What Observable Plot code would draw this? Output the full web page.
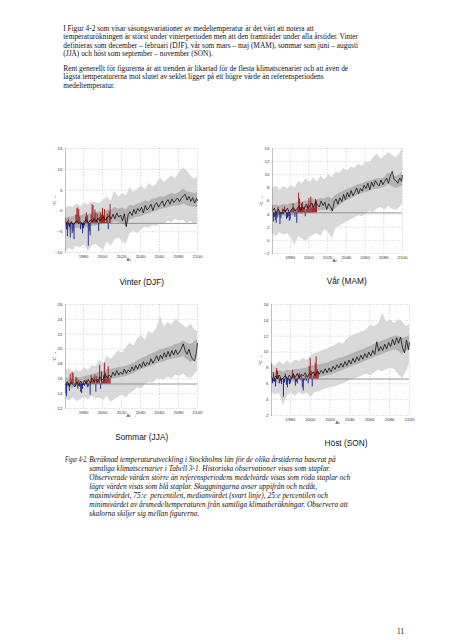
<!DOCTYPE html>
<html><head><meta charset="utf-8">
<script src="https://cdn.jsdelivr.net/npm/d3@7"></script>
<script src="https://cdn.jsdelivr.net/npm/@observablehq/plot@0.6"></script>
<style>
body{margin:0;background:#fff;}
#page{position:relative;width:452px;height:640px;overflow:hidden;background:#fff;}
.p{position:absolute;font-family:"Liberation Serif","Times New Roman",serif;font-size:7.4px;line-height:8.25px;color:#111;white-space:nowrap;}
.cap{font-style:italic;line-height:9px;}
.t{position:absolute;font-family:"Liberation Sans",Arial,sans-serif;font-size:8.3px;color:#111;transform:translate(-50%,-50%);white-space:nowrap;}
.chart{position:absolute;}
</style></head>
<body><div id="page">
<div class="p" style="left:63.3px;top:25.2px">I Figur 4-2 som visar säsongsvariationer av medeltemperatur är det värt att notera att<br>temperaturökningen är störst under vinterperioden men att den framträder under alla årstider. Vinter<br>definieras som december – februari (DJF), vår som mars – maj (MAM), sommar som juni – augusti<br>(JJA) och höst som september – november (SON).</div>
<div class="p" style="left:63.3px;top:65.2px">Rent generellt för figurerna är att trenden är likartad för de flesta klimatscenarier och att även de<br>lägsta temperaturerna mot slutet av seklet ligger på ett högre värde än referensperiodens<br>medeltemperatur.</div>
<div class="chart" id="c1" style="left:43px;top:142.3px"></div>
<div class="chart" id="c2" style="left:249.5px;top:141.7px"></div>
<div class="chart" id="c3" style="left:43px;top:298px"></div>
<div class="chart" id="c4" style="left:249px;top:298px"></div>
<div class="t" style="left:141.7px;top:281.7px">Vinter (DJF)</div>
<div class="t" style="left:346.7px;top:281px">Vår (MAM)</div>
<div class="t" style="left:141.7px;top:437px">Sommar (JJA)</div>
<div class="t" style="left:346px;top:443px">Höst (SON)</div>
<div class="p cap" style="left:65px;top:455.2px;transform:scaleX(0.74);transform-origin:0 0">Figur 4-2.</div>
<div class="p cap" style="left:89.3px;top:455.2px">Beräknad temperaturutveckling i Stockholms län för de olika årstiderna baserat på<br>samtliga klimatscenarier i Tabell 3-1. Historiska observationer visas som staplar.<br>Observerade värden större än referensperiodens medelvärde visas som röda staplar och<br>lägre värden visas som blå staplar. Skuggningarna avser uppifrån och nedåt,<br>maximivärdet, 75:e&nbsp; percentilen, medianvärdet (svart linje), 25:e percentilen och<br>minimivärdet av årsmedeltemperaturen från samtliga klimatberäkningar. Observera att<br>skalorna skiljer sig mellan figurerna.</div>
<div class="p" style="left:397px;top:628px">11</div>
</div>
<script>
// ---------- shared categories ----------
const xTicks = [1980, 2000, 2020, 2040, 2060, 2080, 2100];
const obsYears = [1961,1962,1963,1964,1965,1966,1967,1968,1969,1970,1971,1972,1973,1974,1975,1976,1977,1978,1979,1980,1981,1982,1983,1984,1985,1986,1987,1988,1989,1990,1991,1992,1993,1994,1995,1996,1997,1998,1999,2000,2001,2002,2003,2004,2005,2006,2007,2008];
const bandYears = [1961,1965,1969,1973,1977,1981,1985,1989,1993,1997,2001,2005,2009,2013,2017,2021,2025,2029,2033,2037,2041,2045,2049,2053,2057,2061,2065,2069,2073,2077,2081,2085,2089,2093,2097,2100];
const medianYears = [1961,1963,1965,1967,1969,1971,1973,1975,1977,1979,1981,1983,1985,1987,1989,1991,1993,1995,1997,1999,2001,2003,2005,2007,2009,2011,2013,2015,2017,2019,2021,2023,2025,2027,2029,2031,2033,2035,2037,2039,2041,2043,2045,2047,2049,2051,2053,2055,2057,2059,2061,2063,2065,2067,2069,2071,2073,2075,2077,2079,2081,2083,2085,2087,2089,2091,2093,2095,2097,2099,2100];

// ---------- Vinter (DJF) ----------
const winterTicks = [-10,-5,0,5,10,15];
const winterRef = -3.0;
const winterObs = [-1.8,-4.5,-6.2,-2.0,-4.0,-6.5,-2.5,-5.5,-5.0,-6.9,-2.8,-1.0,0.5,0.7,0.3,-1.5,-4.5,-3.4,-5.5,-4.3,-3.6,-1.5,-0.5,-1.2,-8.5,-5.0,-6.0,-1.0,1.5,1.3,-1.8,0.2,-0.5,-2.2,-0.8,-5.0,-1.5,-0.5,-1.0,0.6,-1.2,0.3,-2.8,-1.5,-0.8,-4.5,-0.2,1.5];
const winterMedian = [-3.2,-2.5,-3.6,-2.7,-3.3,-2.9,-2.4,-3.1,-2.6,-3.4,-2.5,-2.1,-2.9,-2.2,-2.7,-1.9,-2.6,-1.7,-2.3,-1.9,-1.4,-2.2,-1.6,-1.1,-2.0,-0.8,-1.9,-0.5,-1.5,-1.0,-2.4,-0.7,-3.8,-0.9,-0.2,-1.1,0.4,-0.7,0.6,-0.1,0.9,-0.5,1.3,0.2,0.8,1.6,0.1,1.4,2.0,0.9,1.7,2.4,1.1,2.1,2.7,1.6,2.9,2.0,2.6,3.1,2.2,3.0,3.6,4.0,2.6,3.5,2.3,3.2,1.9,3.0,2.5];
const winterMax = [0.5,1.2,0.8,1.8,1.0,1.9,1.4,2.2,2.0,1.8,2.6,3.2,2.4,4.8,3.2,4.2,3.6,5.6,4.4,5.2,6.0,5.0,6.6,5.8,6.4,8.0,6.8,7.6,8.4,7.8,9.2,10.4,9.6,8.4,7.6,8.2];
const winterP75 = [-1.8,-1.5,-1.4,-1.0,-1.2,-0.8,-0.9,-0.5,-0.6,-0.2,-0.3,0.2,0.1,0.8,0.4,0.7,0.2,1.3,1.2,1.6,1.9,2.4,2.2,2.8,3.0,3.4,3.3,3.8,4.1,4.0,4.4,5.2,4.6,4.4,4.2,4.3];
const winterP25 = [-4.6,-4.8,-4.4,-4.2,-4.3,-4.0,-4.1,-3.7,-3.6,-3.4,-3.2,-3.0,-3.1,-2.6,-2.8,-3.0,-3.6,-2.2,-1.8,-1.5,-1.4,-0.9,-0.7,-0.3,-0.1,0.3,0.5,0.7,1.0,1.1,1.2,1.6,1.3,1.0,0.9,0.8];
const winterMin = [-10,-9.0,-9.5,-8.5,-9.0,-8.0,-9.8,-8.5,-8.0,-8.8,-9.5,-7.5,-8.5,-7.0,-6.5,-7.5,-8.0,-5.5,-5.0,-5.5,-4.5,-4.0,-4.2,-3.5,-3.8,-3.0,-3.2,-2.5,-2.8,-2.0,-2.5,-2.2,-3.0,-2.5,-3.2,-2.8];

// ---------- Vår (MAM) ----------
const springTicks = [-2,0,2,4,6,8,10,12,14];
const springRef = 4.2;
const springObs = [5.2,2.8,3.5,3.0,2.6,3.4,5.0,3.8,2.4,3.3,4.0,4.8,3.9,5.1,4.6,3.2,3.4,3.6,2.9,3.1,4.5,4.7,5.6,4.9,3.5,4.6,2.6,4.8,7.2,6.3,5.0,5.6,5.8,4.9,5.1,3.6,4.7,5.2,5.5,6.4,4.8,6.6,5.0,5.5,5.2,4.9,6.2,6.0];
const springMedian = [4.5,4.9,4.1,4.8,4.3,4.0,4.7,4.4,4.9,4.2,4.6,5.0,4.5,4.8,5.2,4.6,5.1,4.8,5.5,4.9,5.3,5.7,5.0,5.9,5.4,5.1,6.0,5.3,5.8,4.7,5.6,5.1,4.5,5.9,6.3,5.5,6.5,5.9,7.0,6.2,7.3,6.6,7.6,6.8,7.3,8.0,7.1,7.9,7.5,8.4,7.9,8.7,7.7,8.9,8.2,9.1,8.6,8.3,9.2,8.5,9.0,9.5,8.7,9.8,10.5,9.3,9.1,8.7,9.5,9.0,9.9];
const springMax = [8.0,8.3,7.6,8.2,7.8,8.4,7.9,9.0,8.6,9.4,8.8,9.6,8.9,9.8,9.2,10.0,9.6,10.4,10.2,10.9,10.5,11.2,11.0,11.6,11.3,12.0,11.8,12.6,13.2,12.4,12.8,13.4,13.0,12.6,13.2,14.0];
const springP75 = [5.3,5.4,5.2,5.5,5.4,5.6,5.6,5.9,5.8,6.0,6.0,6.3,6.2,6.4,6.3,6.6,6.3,6.9,7.2,7.5,7.8,8.0,8.2,8.5,8.6,8.9,9.0,9.2,9.4,9.4,9.6,10.3,9.9,9.7,10.0,10.4];
const springP25 = [3.4,3.6,3.5,3.7,3.5,3.7,3.8,4.0,3.9,4.2,4.1,4.3,4.4,4.6,4.5,4.7,4.2,4.9,5.3,5.7,6.1,6.3,6.6,6.9,7.1,7.3,7.5,7.7,7.8,7.9,8.1,8.5,8.2,7.9,8.1,8.3];
const springMin = [1.0,0.6,1.2,0.8,1.0,0.4,-0.8,0.6,0.2,-0.2,0.5,0.8,1.0,0.6,1.7,1.2,0.3,1.8,2.2,2.5,2.8,3.2,3.4,3.8,3.6,4.0,4.4,4.2,4.8,5.0,4.6,5.2,4.8,4.5,5.0,5.5];

// ---------- Sommar (JJA) ----------
const summerTicks = [12,14,16,18,20,22,24,26];
const summerRef = 15.3;
const summerObs = [14.0,13.6,15.0,15.2,14.3,16.6,15.8,16.9,16.7,15.4,15.0,16.2,16.0,14.6,15.8,14.9,14.2,14.0,14.6,15.1,15.0,15.6,15.8,14.8,14.9,15.4,13.8,16.4,15.9,15.6,16.2,16.5,14.2,16.3,15.9,15.4,17.8,14.6,16.9,15.6,16.4,18.1,16.8,15.9,16.2,17.6,16.0,16.1];
const summerMedian = [15.3,15.6,15.0,15.5,15.2,14.9,15.6,15.1,15.7,15.2,15.8,15.3,15.9,15.4,16.1,15.6,15.9,15.5,16.3,15.8,16.0,16.6,16.1,16.5,16.2,16.9,16.4,17.1,16.5,16.9,16.6,17.3,16.7,17.2,16.9,17.6,17.1,17.8,17.3,18.0,17.5,18.3,17.7,18.2,17.9,18.7,18.1,18.6,19.1,18.4,19.2,18.7,19.5,18.9,19.7,19.0,19.8,19.2,19.9,19.3,19.6,20.1,20.7,19.8,19.3,20.0,19.1,18.6,18.4,19.7,20.8];
const summerMax = [17.0,17.4,16.8,17.2,16.9,17.5,17.1,17.8,17.6,18.5,18.0,19.0,18.6,19.2,19.8,19.4,20.2,20.8,20.4,21.4,21.8,21.2,22.4,22.0,22.8,24.4,23.0,23.6,23.2,24.0,23.6,23.2,22.8,23.4,22.6,22.4];
const summerP75 = [16.0,16.1,15.9,16.2,16.1,16.3,16.4,16.6,16.7,16.9,17.0,17.2,17.3,17.4,17.5,17.6,17.7,17.9,18.1,18.4,18.7,18.9,19.2,19.4,19.6,19.9,20.0,20.2,20.3,20.6,20.7,21.1,20.8,20.6,21.0,21.3];
const summerP25 = [14.8,14.9,14.7,15.0,14.8,15.1,15.0,15.2,15.3,15.4,15.6,15.8,15.9,16.0,16.1,16.2,16.3,16.5,16.7,17.0,17.2,17.4,17.6,17.8,18.0,18.2,18.3,18.5,18.6,18.7,18.8,19.0,18.6,18.2,18.5,19.0];
const summerMin = [13.3,13.0,13.4,12.9,13.2,13.5,13.1,13.6,13.3,13.4,13.0,13.6,12.8,13.2,13.5,13.8,13.4,14.0,14.3,14.8,14.6,15.2,15.5,15.4,15.9,16.0,15.8,16.2,16.0,16.5,16.3,16.6,16.2,16.0,16.5,17.0];

// ---------- Höst (SON) ----------
const autumnTicks = [2,4,6,8,10,12,14,16];
const autumnRef = 6.6;
const autumnObs = [8.5,6.0,7.4,6.2,5.6,7.9,7.6,7.0,6.0,6.3,5.9,6.5,4.3,6.1,7.2,5.8,5.5,6.4,5.9,6.0,6.5,7.7,7.3,7.0,5.7,6.2,6.0,7.1,7.3,6.5,7.0,5.5,5.1,6.4,7.0,6.3,6.6,6.0,8.2,9.2,7.6,5.6,7.0,7.4,8.6,9.4,7.8,7.5];
const autumnMedian = [6.9,6.4,7.0,6.6,7.1,6.5,6.8,7.0,6.6,7.1,6.7,7.2,6.8,7.3,6.7,7.2,7.0,7.4,6.8,7.3,7.1,7.5,7.0,7.6,7.2,7.7,7.3,7.9,7.4,8.0,7.5,8.2,7.8,8.4,8.0,8.6,8.1,8.8,8.3,9.0,8.5,9.2,8.7,9.4,8.9,9.6,9.1,9.8,9.3,10.0,9.5,10.2,9.7,11.3,10.1,10.7,10.2,11.0,10.4,11.2,10.7,11.6,10.9,11.8,11.1,11.9,10.5,9.9,11.5,10.3,11.2];
const autumnMax = [8.6,8.2,8.8,8.4,8.9,8.5,9.0,8.8,9.2,9.0,9.6,9.8,10.0,10.2,10.4,10.6,10.8,11.2,11.0,11.6,12.0,12.2,12.4,12.6,12.8,13.4,13.2,13.6,14.9,13.8,14.0,13.6,14.1,13.8,13.2,13.5];
const autumnP75 = [7.5,7.4,7.6,7.5,7.7,7.6,7.8,7.8,7.9,8.0,8.2,8.3,8.4,8.5,8.6,8.8,9.0,9.2,9.3,9.5,9.7,9.9,10.1,10.3,10.5,10.7,11.0,11.2,11.4,11.6,11.8,12.0,12.0,11.7,11.9,12.1];
const autumnP25 = [6.1,6.2,6.0,6.2,6.1,6.3,6.2,6.4,6.3,6.5,6.6,6.7,6.8,6.9,7.0,7.1,7.3,7.5,7.7,7.9,8.1,8.3,8.5,8.7,8.9,9.1,9.3,9.5,9.7,9.9,10.1,10.3,10.1,9.7,10.1,10.3];
const autumnMin = [4.9,4.6,4.8,3.2,4.5,4.8,4.4,4.9,4.6,4.8,4.3,4.9,5.0,5.2,5.4,5.5,5.6,5.8,6.0,6.2,6.5,6.6,6.8,7.0,7.2,7.0,7.4,7.7,7.5,7.8,8.0,7.8,7.2,6.6,7.6,8.5];

const RED = "#9c1c1c", BLUE = "#1e2490";

function chart(id, c) {
  const band = bandYears.map((year, i) => ({year, min: c.min[i], p25: c.p25[i], p75: c.p75[i], max: c.max[i]}));
  const med = medianYears.map((year, i) => ({year, value: c.median[i]}));
  const obs = obsYears.map((year, i) => ({year, value: c.obs[i]}));
  const above = obs.filter(d => d.value >= c.ref);
  const below = obs.filter(d => d.value < c.ref);
  const barOpts = {x1: "year", x2: d => d.year + 1, y1: d => c.ref, y2: "value"};
  const plot = Plot.plot({
    width: c.w, height: c.h,
    marginLeft: 22, marginRight: 8, marginTop: 6, marginBottom: 16,
    style: {fontFamily: "Liberation Sans, Arial, sans-serif", fontSize: "4.4px", color: "#333", background: "transparent", overflow: "visible"},
    x: {domain: [1961, 2100], ticks: xTicks, tickFormat: d => String(d), tickSize: 0, tickPadding: 2, label: "År", labelAnchor: "center", labelOffset: 8.5},
    y: {domain: c.domain, ticks: c.ticks, tickSize: 0, tickPadding: 3, label: "°C", labelAnchor: "center", labelOffset: 13},
    marks: [
      Plot.gridX(xTicks, {stroke: "#b4b4b4", strokeOpacity: 1, strokeWidth: 0.5, strokeDasharray: "1.5,1.5"}),
      Plot.gridY(c.ticks, {stroke: "#b4b4b4", strokeOpacity: 1, strokeWidth: 0.5, strokeDasharray: "1.5,1.5"}),
      Plot.areaY(band, {x: "year", y1: "min", y2: "max", fill: "#d9d9d9"}),
      Plot.areaY(band, {x: "year", y1: "p25", y2: "p75", fill: "#b3b3b3"}),
      Plot.ruleY([c.ref], {stroke: "#7c7c7c", strokeWidth: 0.8}),
      Plot.rect(above, {...barOpts, fill: RED}),
      Plot.rect(below, {...barOpts, fill: BLUE}),
      Plot.line(med, {x: "year", y: "value", stroke: "#111", strokeWidth: 0.8}),
      Plot.frame({anchor: "left", stroke: "#999", strokeWidth: 0.6})
    ]
  });
  document.getElementById(id).appendChild(plot);
}

chart("c1", {w: 162, h: 126, domain: [-10, 15], ticks: winterTicks, ref: winterRef, obs: winterObs, median: winterMedian, max: winterMax, p75: winterP75, p25: winterP25, min: winterMin});
chart("c2", {w: 160, h: 127, domain: [-2, 14], ticks: springTicks, ref: springRef, obs: springObs, median: springMedian, max: springMax, p75: springP75, p25: springP25, min: springMin});
chart("c3", {w: 162, h: 126, domain: [12, 26], ticks: summerTicks, ref: summerRef, obs: summerObs, median: summerMedian, max: summerMax, p75: summerP75, p25: summerP25, min: summerMin});
chart("c4", {w: 168, h: 133, domain: [2, 16], ticks: autumnTicks, ref: autumnRef, obs: autumnObs, median: autumnMedian, max: autumnMax, p75: autumnP75, p25: autumnP25, min: autumnMin});
</script>
</body></html>
